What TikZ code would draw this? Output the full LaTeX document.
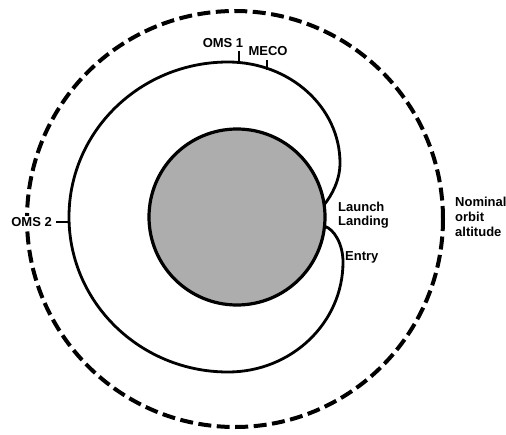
\documentclass[tikz,border=0pt]{standalone}
\usepackage{fontspec}
\setmainfont{Liberation Sans}
\begin{document}
\begin{tikzpicture}[x=1pt,y=-1pt,
  traj/.style={line width=2.8pt, line join=round},
  tickmark/.style={line width=2.2pt},
  lbl/.style={font=\bfseries\fontsize{13}{15}\selectfont, inner sep=1pt},
]
\useasboundingbox (0,0) rectangle (506,434);
\fill[white] (0,0) rectangle (506,434);
% nominal orbit altitude
\draw[line width=4pt, dash pattern=on 13pt off 5.5pt] (235,219) circle[radius=208pt];
% Earth
\draw[line width=3.2pt, fill=black!32] (237,217) circle[radius=88pt];
\coordinate (launch) at (324.1,204.8);
\coordinate (landing) at (324.5,226.2);
\coordinate (rtop) at (340,163);
\coordinate (top) at (228,62);
\coordinate (left) at (69,217);
\coordinate (bottom) at (228,372);
\coordinate (rlow) at (343,262);
% trajectory
\draw[traj] (launch) .. controls (332,195) and (340,180) .. (rtop)
  .. controls (340,107.2) and (289.9,62) .. (top)
  .. controls (140.2,62) and (69,131.4) .. (left)
  .. controls (69,302.6) and (140.2,372) .. (bottom)
  .. controls (291.5,372) and (343,322.8) .. (rlow)
  .. controls (343,244) and (334,229) .. (landing);
% ticks
\coordinate (oms1a) at (239,51); \coordinate (oms1b) at (239,63.5);
\coordinate (mecoa) at (267,60); \coordinate (mecob) at (267,69.5);
\coordinate (oms2a) at (56,222); \coordinate (oms2b) at (70,222);
\draw[tickmark] (oms1a) -- (oms1b);
\draw[tickmark] (mecoa) -- (mecob);
\draw[tickmark] (oms2a) -- (oms2b);
% labels
\node[lbl] (loms1) at (223,43) {OMS 1};
\node[lbl] (lmeco) at (268,51) {MECO};
\node[lbl, fill=white, anchor=east] (loms2) at (53,222) {OMS 2};
\node[lbl, anchor=west] (llaunch) at (337,207) {Launch};
\node[lbl, anchor=west] (llanding) at (337,222) {Landing};
\node[lbl, anchor=west] (lentry) at (344,257) {Entry};
\node[lbl, anchor=west, align=left] (lnom) at (454,217) {Nominal\\orbit\\altitude};
\end{tikzpicture}
\end{document}
